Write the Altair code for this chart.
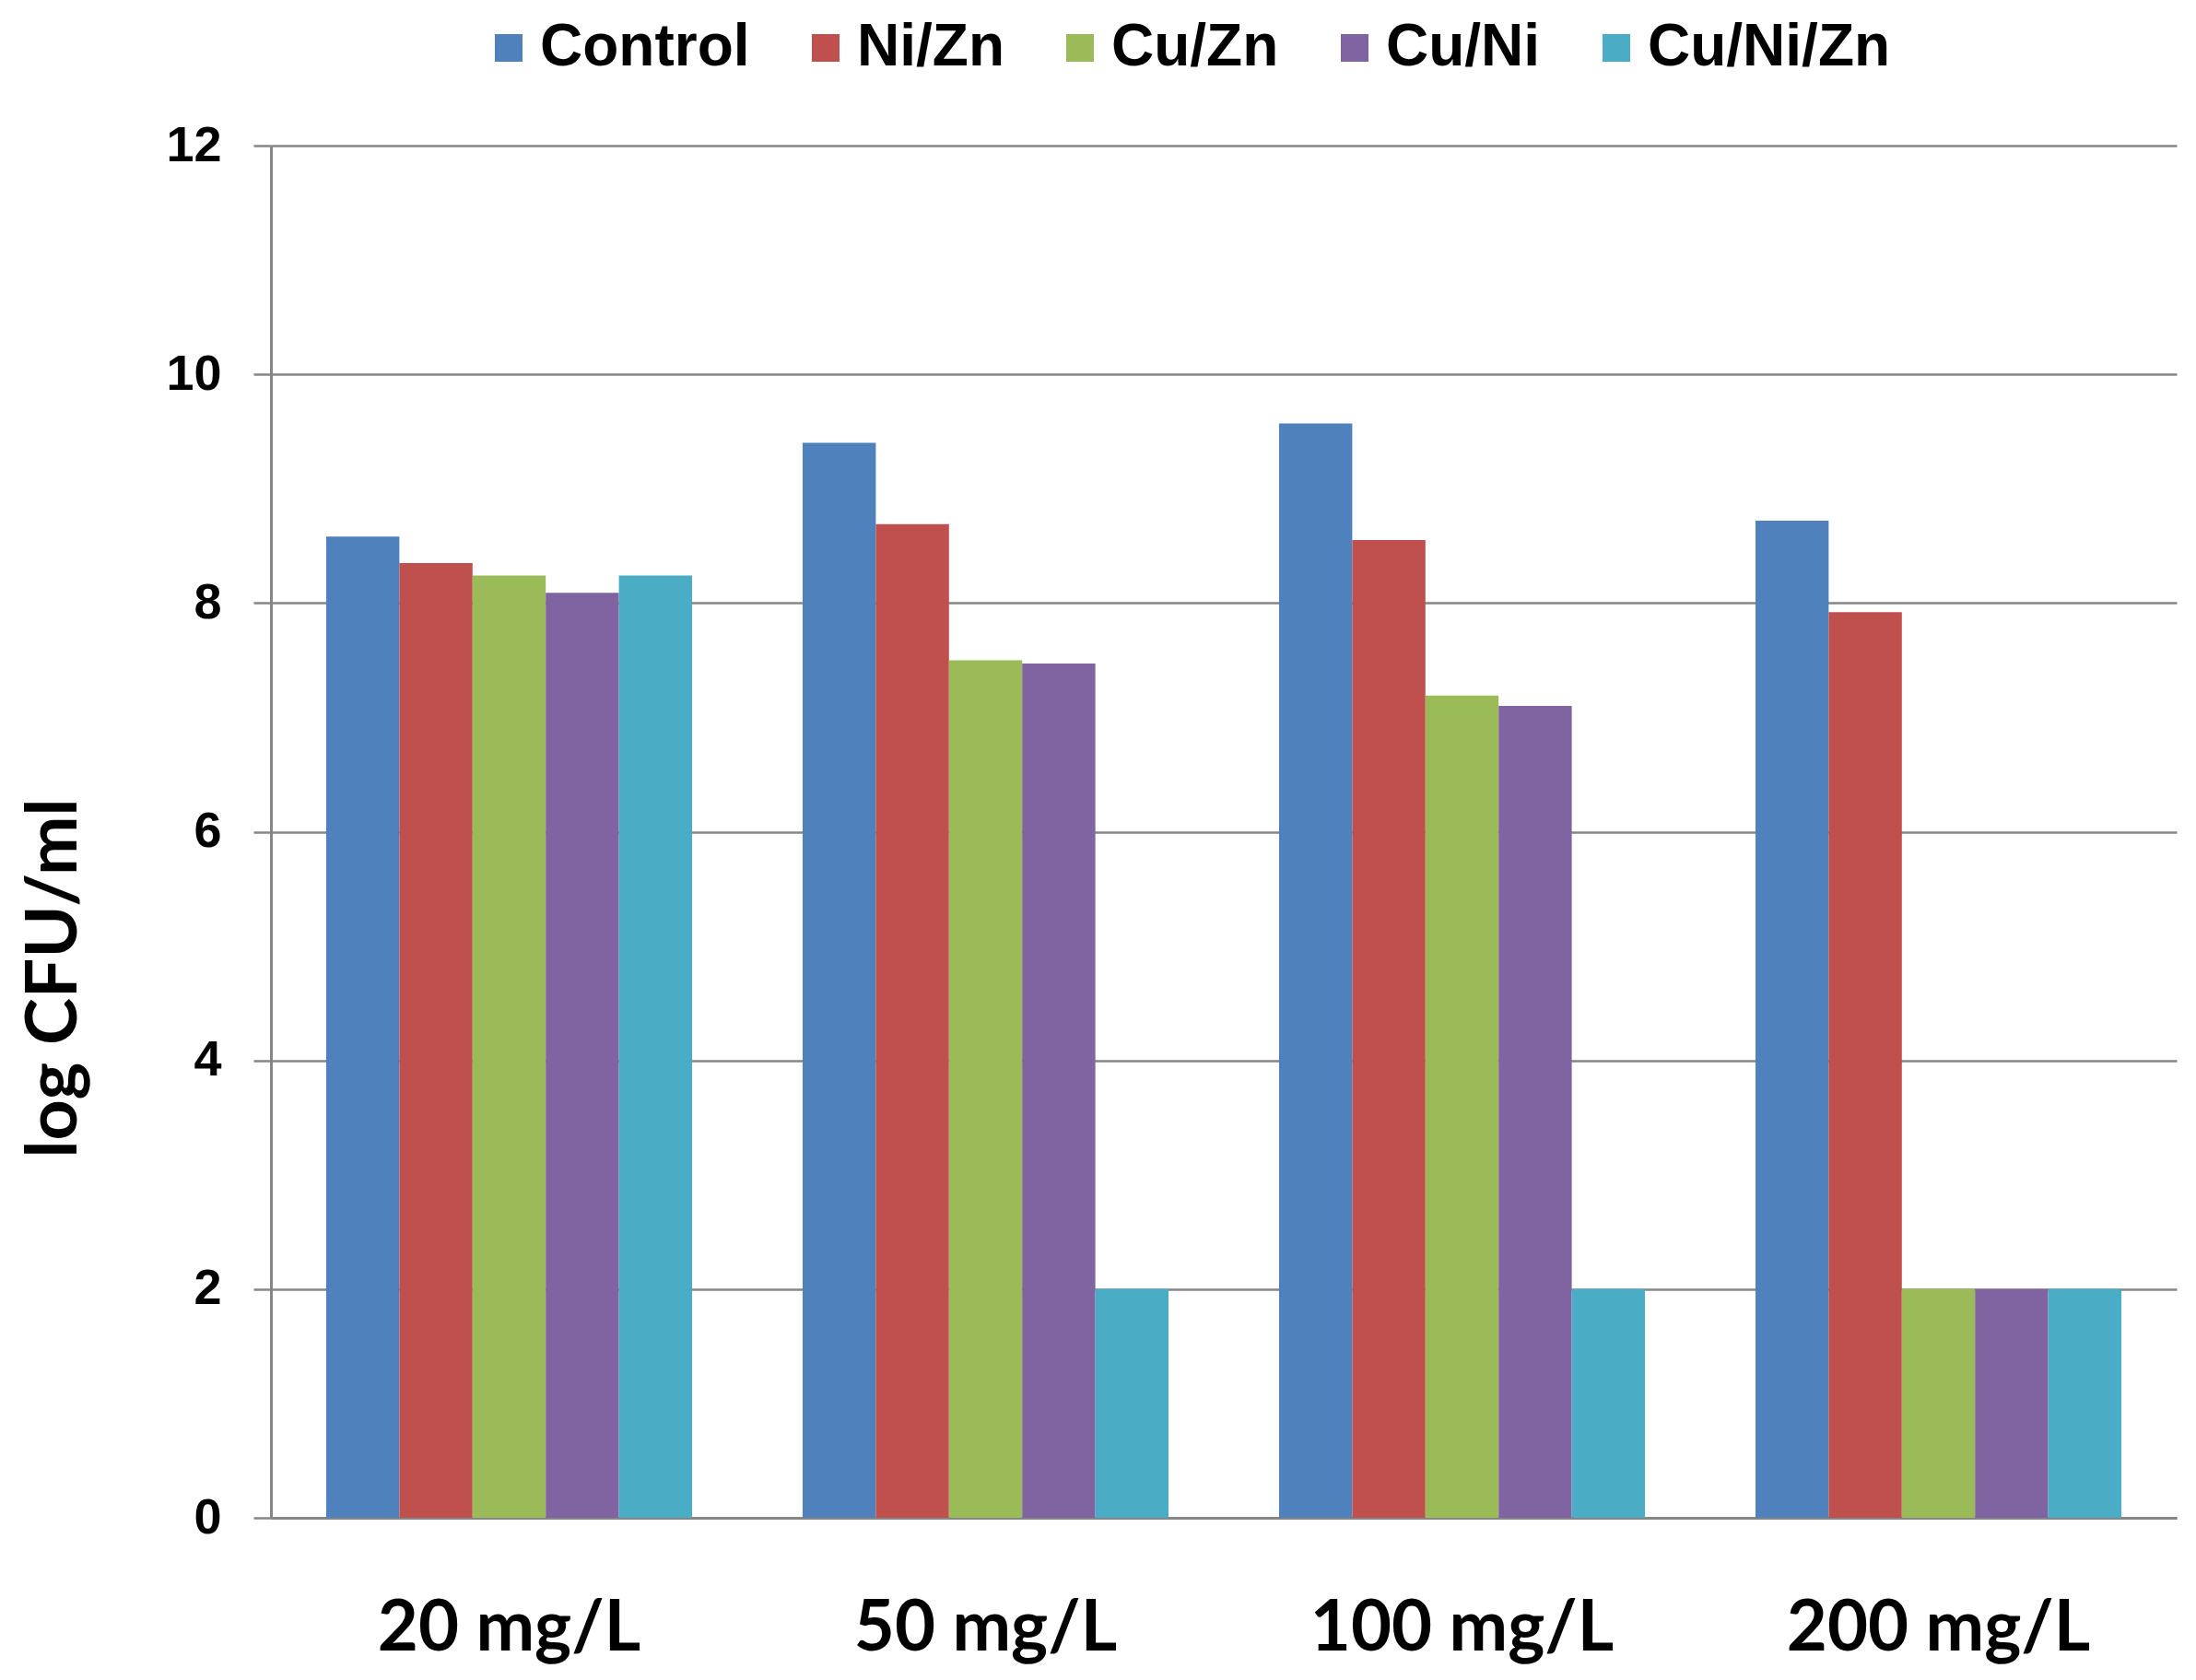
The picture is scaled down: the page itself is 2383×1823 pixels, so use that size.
import altair as alt
import pandas as pd

categories = ["20 mg/L", "50 mg/L", "100 mg/L", "200 mg/L"]
series = ["Control", "Ni/Zn", "Cu/Zn", "Cu/Ni", "Cu/Ni/Zn"]
colors = ["#4F81BD", "#C0504D", "#9BBB59", "#8064A2", "#4BACC6"]

control = [8.58, 9.40, 9.57, 8.72]
ni_zn = [8.35, 8.69, 8.55, 7.92]
cu_zn = [8.24, 7.50, 7.19, 2.0]
cu_ni = [8.09, 7.47, 7.10, 2.0]
cu_ni_zn = [8.24, 2.0, 2.0, 2.0]

values = [control, ni_zn, cu_zn, cu_ni, cu_ni_zn]
rows = []
for s, vals in zip(series, values):
    for c, v in zip(categories, vals):
        rows.append({"conc": c, "series": s, "value": v})
df = pd.DataFrame(rows)

gray = "#868686"

chart = alt.Chart(df).mark_bar().encode(
    x=alt.X(
        "conc:N",
        sort=categories,
        scale=alt.Scale(paddingInner=0.232, paddingOuter=0.116),
        axis=alt.Axis(
            title=None,
            labelAngle=0,
            ticks=False,
            tickSize=0,
            domain=True,
            domainColor=gray,
            domainWidth=3,
            labelFont="Lato",
            labelFontWeight="bold",
            labelFontSize=76,
            labelColor="#000000",
            labelBaseline="alphabetic",
            labelPadding=143,
            labelLimit=0,
        ),
    ),
    xOffset=alt.XOffset(
        "series:N", sort=series, scale=alt.Scale(paddingInner=0, paddingOuter=0)
    ),
    y=alt.Y(
        "value:Q",
        scale=alt.Scale(domain=[0, 12], nice=False),
        axis=alt.Axis(
            title="log CFU/ml",
            values=[0, 2, 4, 6, 8, 10, 12],
            grid=True,
            gridColor=gray,
            gridWidth=2.5,
            domainColor=gray,
            domainWidth=3,
            tickColor=gray,
            tickWidth=2.5,
            tickSize=19,
            labelFont="Liberation Sans",
            labelFontWeight="bold",
            labelFontSize=54,
            labelColor="#000000",
            labelPadding=35,
            titleFont="Lato",
            titleFontWeight="bold",
            titleFontSize=77,
            titleColor="#000000",
            titleAngle=270,
            titleAlign="center",
            titleBaseline="alphabetic",
            titleX=-212,
            titleY=903,
        ),
    ),
    color=alt.Color(
        "series:N",
        sort=series,
        scale=alt.Scale(domain=series, range=colors),
        legend=alt.Legend(
            title=None,
            orient="none",
            legendX=226,
            legendY=-138,
            direction="horizontal",
            columns=5,
            symbolType="square",
            symbolSize=900,
            symbolStrokeWidth=0,
            labelFont="Liberation Sans",
            labelFontWeight="bold",
            labelFontSize=64,
            labelColor="#000000",
            labelOffset=2,
            labelLimit=0,
            columnPadding=50,
            padding=0,
        ),
    ),
).properties(
    width=2068,
    height=1489,
    padding={"left": 286, "top": 150, "right": 13, "bottom": 160},
    autosize=alt.AutoSizeParams(type="none"),
    background="#ffffff",
).configure_view(stroke=None)

chart.save("out.html", embed_options={"renderer": "svg", "actions": False})
